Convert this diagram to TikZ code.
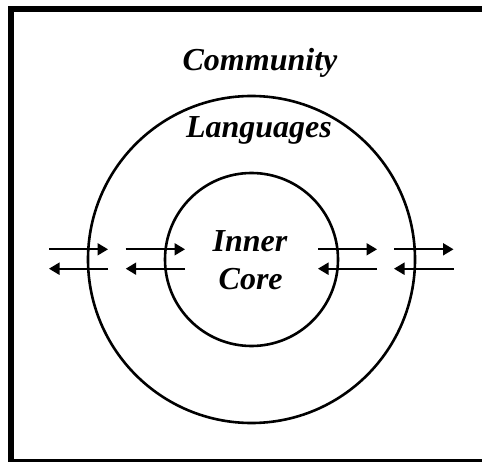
\documentclass[tikz,border=0pt]{standalone}
\usepackage{fontspec}
\setmainfont{Liberation Serif}
\usetikzlibrary{arrows.meta}
\begin{document}
\begin{tikzpicture}[x=1pt,y=1pt,
  ring/.style={draw, circle, line width=2.6pt, inner sep=0pt},
  lbl/.style={font=\fontsize{32}{38}\selectfont\bfseries\itshape, inner sep=0pt, anchor=base},
  flow/.style={line width=2pt, -{Triangle[length=10.5pt,width=12pt]}},
  frame/.style={line width=6pt, line cap=butt}]
\useasboundingbox (0,0) rectangle (482,461);
\begin{scope}
\clip (0,0) rectangle (482,461);
\coordinate (fbl) at (11,-1);
\coordinate (ftl) at (11,452);
\coordinate (ftr) at (482,452);
\coordinate (fbr) at (482,-1);
\draw[frame] (fbr) -- (fbl) -- (ftl) -- (ftr);
\end{scope}
\node[ring, minimum size=327pt] (outer) at (251.5,201.5) {};
\node[ring, minimum size=173pt] (inner) at (251.5,201.5) {};
\node[lbl] (community) at (260,390.3) {Community};
\node[lbl] (languages) at (259,323.7) {Languages};
\node[lbl] (innerw) at (250,209) {Inner};
\node[lbl] (corew) at (250.7,171) {Core};
% right-pointing arrows
\coordinate (r1a) at (49,211.7);   \coordinate (r1b) at (108,211.7);
\coordinate (r2a) at (125.7,211.7); \coordinate (r2b) at (185,211.7);
\coordinate (r3a) at (318,211.7);  \coordinate (r3b) at (377,211.7);
\coordinate (r4a) at (394,211.7);  \coordinate (r4b) at (453.5,211.7);
% left-pointing arrows
\coordinate (l1a) at (108,192.3);  \coordinate (l1b) at (49,192.3);
\coordinate (l2a) at (185,192.3);  \coordinate (l2b) at (125.7,192.3);
\coordinate (l3a) at (377,192.3);  \coordinate (l3b) at (318,192.3);
\coordinate (l4a) at (453.5,192.3); \coordinate (l4b) at (394,192.3);
\foreach \i in {1,2,3,4} {
  \draw[flow] (r\i a) -- (r\i b);
  \draw[flow] (l\i a) -- (l\i b);
}
\end{tikzpicture}
\end{document}
